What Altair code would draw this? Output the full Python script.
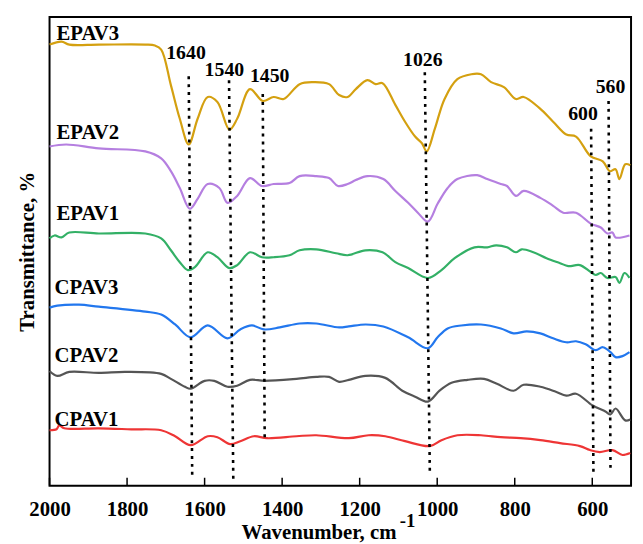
import altair as alt
import pandas as pd

series_names = ["EPAV3", "EPAV2", "EPAV1", "CPAV3", "CPAV2", "CPAV1"]
series_colors = ["#D4A010", "#B57FE0", "#33B066", "#2277EE", "#555555", "#EE3535"]

epav3_wn = [2000, 1969, 1949, 1873, 1753, 1728, 1712, 1687, 1664, 1641, 1618, 1592, 1567, 1536, 1516, 1483, 1450,
            1422, 1396, 1355, 1320, 1279, 1253, 1231, 1210, 1180, 1159, 1141, 1108, 1083, 1057, 1039, 1027, 1006,
            981, 948, 912, 887, 861, 828, 797, 777, 734, 701, 667, 642, 604, 573, 555, 540, 530, 515, 502]
epav3_t = [446, 449, 446, 446, 446, 445, 441, 405, 371, 345, 371, 393, 388, 360, 371, 401, 389,
           393, 391, 406, 408, 406, 395, 393, 401, 410, 406, 407, 385, 368, 353, 346, 338, 361,
           391, 411, 416, 416, 408, 403, 391, 393, 381, 368, 355, 353, 333, 328, 318, 320, 310, 325, 324]

epav2_wn = [2000, 1957, 1873, 1753, 1712, 1687, 1664, 1638, 1618, 1592, 1562, 1541, 1516, 1483, 1452, 1422, 1381,
            1355, 1312, 1279, 1256, 1231, 1210, 1180, 1139, 1108, 1075, 1050, 1024, 999, 973, 948, 897, 871, 836,
            820, 797, 777, 734, 701, 675, 642, 604, 578, 561, 548, 540, 504]
epav2_t = [343, 345, 341, 338, 331, 318, 301, 280, 290, 305, 301, 286, 293, 311, 303, 305, 306,
           313, 313, 311, 303, 305, 309, 313, 310, 298, 286, 276, 267, 285, 301, 310, 314, 310, 305,
           303, 293, 298, 291, 283, 276, 276, 265, 261, 255, 256, 251, 253]

epav1_wn = [2000, 1987, 1969, 1949, 1873, 1753, 1712, 1687, 1664, 1643, 1625, 1592, 1567, 1536, 1516, 1483, 1452,
            1422, 1381, 1355, 1312, 1261, 1231, 1185, 1141, 1108, 1075, 1024, 989, 955, 904, 871, 848, 820, 797,
            782, 752, 718, 683, 662, 632, 604, 591, 578, 561, 540, 530, 517, 504]
epav1_t = [250, 253, 251, 256, 255, 255, 250, 238, 226, 218, 221, 236, 231, 220, 223, 236, 231,
           231, 233, 238, 239, 235, 233, 238, 236, 226, 220, 210, 218, 230, 241, 241, 243, 241, 236,
           239, 236, 230, 225, 222, 223, 216, 213, 215, 210, 211, 205, 215, 210]

cpav3_wn = [2000, 1980, 1924, 1873, 1753, 1712, 1676, 1636, 1592, 1541, 1508, 1478, 1447, 1406, 1355, 1312, 1253,
            1228, 1185, 1139, 1075, 1024, 999, 973, 938, 887, 836, 803, 769, 734, 701, 667, 642, 617, 591, 573,
            553, 540, 522, 504]
cpav3_t = [180, 182, 183, 181, 176, 173, 163, 150, 162, 149, 158, 162, 158, 160, 164, 164, 160,
           161, 163, 161, 150, 139, 150, 159, 162, 163, 159, 154, 156, 154, 149, 145, 146, 143, 137, 140,
           135, 130, 131, 135]

cpav2_wn = [2000, 1980, 1949, 1873, 1804, 1712, 1687, 1651, 1636, 1600, 1575, 1541, 1516, 1483, 1445, 1363, 1312,
            1279, 1253, 1228, 1185, 1134, 1090, 1057, 1024, 994, 963, 922, 879, 846, 803, 777, 734, 694, 667,
            642, 599, 566, 553, 540, 515, 502]
cpav2_t = [116, 111, 115, 114, 115, 113, 108, 100, 98, 106, 106, 100, 101, 107, 106, 108, 110,
           110, 105, 107, 111, 109, 96, 90, 85, 96, 104, 107, 108, 103, 96, 102, 100, 95, 91,
           93, 81, 75, 72, 78, 66, 67]

cpav1_wn = [2000, 1982, 1975, 1962, 1873, 1789, 1712, 1676, 1636, 1592, 1567, 1534, 1508, 1473, 1439, 1363, 1312,
            1228, 1177, 1134, 1083, 1019, 989, 948, 887, 836, 785, 734, 683, 632, 606, 581, 548, 522, 502]
cpav1_t = [56, 57, 61, 58, 58, 57, 56, 50, 41, 50, 49, 42, 45, 50, 48, 50, 51,
           48, 51, 50, 45, 40, 46, 51, 51, 49, 48, 46, 43, 40, 36, 34, 36, 31, 33]

label_wn = [1982, 1982, 1982, 1987, 1987, 1987]
label_t = [457, 357, 275, 200, 131, 66]

peak_text = ["1640", "1540", "1450", "1026", "600", "560"]
peak_text_wn = [1648, 1549, 1432, 1037, 624, 553]
peak_text_t = [437, 420, 414, 430, 376, 403]
peak_top_wn = [1641, 1537, 1450, 1032, 603, 558]
peak_top_t = [414, 410, 396, 418, 361, 389]
peak_bot_wn = [1632, 1526, 1445, 1019, 597, 553]
peak_bot_t = [11, 6, 48, 13, 11, 15]

tick_values = [2000, 1800, 1600, 1400, 1200, 1000, 800, 600]

FONT = "Liberation Serif"

all_wn = [epav3_wn, epav2_wn, epav1_wn, cpav3_wn, cpav2_wn, cpav1_wn]
all_t = [epav3_t, epav2_t, epav1_t, cpav3_t, cpav2_t, cpav1_t]
rows = []
for name, wns, ts in zip(series_names, all_wn, all_t):
    for i, (w, v) in enumerate(zip(wns, ts)):
        rows.append({"series": name, "wn": w, "T": v, "i": i})
df = pd.DataFrame(rows)

lab_df = pd.DataFrame({"series": series_names, "wn": label_wn, "T": label_t})
peak_df = pd.DataFrame({"txt": peak_text, "wn": peak_text_wn, "T": peak_text_t})
rule_df = pd.DataFrame({"wn": peak_top_wn, "T": peak_top_t, "wn2": peak_bot_wn, "T2": peak_bot_t})
tick_df = pd.DataFrame({"wn": tick_values, "T": [0] * len(tick_values), "T2": [8] * len(tick_values)})

xscale = alt.Scale(domain=[500, 2000], reverse=True, nice=False, zero=False)
yscale = alt.Scale(domain=[0, 474], nice=False, zero=False)

lines = alt.Chart(df).mark_line(strokeWidth=2.2, interpolate="catmull-rom").encode(
    x=alt.X("wn:Q", scale=xscale,
            axis=alt.Axis(values=tick_values, format="d", title="Wavenumber, cm", ticks=False, domain=False,
                          grid=False, labelFlush=False, labelOverlap=False, labelPadding=13, titlePadding=2,
                          titleX=272, titleAlign="center")),
    y=alt.Y("T:Q", scale=yscale,
            axis=alt.Axis(title="Transmittance, %", labels=False, ticks=False, domain=False, grid=False,
                          titlePadding=12)),
    color=alt.Color("series:N", scale=alt.Scale(domain=series_names, range=series_colors), legend=None),
    order=alt.Order("i:Q"),
)

rules = alt.Chart(rule_df).mark_rule(strokeDash=[3, 5], strokeWidth=2.6, color="black").encode(
    x=alt.X("wn:Q", scale=xscale), x2="wn2:Q", y=alt.Y("T:Q", scale=yscale), y2="T2:Q"
)

ticks = alt.Chart(tick_df).mark_rule(strokeWidth=1.5, color="black").encode(
    x=alt.X("wn:Q", scale=xscale), y=alt.Y("T:Q", scale=yscale), y2="T2:Q"
)

labels = alt.Chart(lab_df).mark_text(font=FONT, fontSize=21, fontWeight="bold", align="left",
                                     baseline="middle", color="black").encode(
    x=alt.X("wn:Q", scale=xscale), y=alt.Y("T:Q", scale=yscale), text="series:N"
)

peaks = alt.Chart(peak_df).mark_text(font=FONT, fontSize=20, fontWeight="bold", align="center",
                                     baseline="middle", color="black").encode(
    x=alt.X("wn:Q", scale=xscale), y=alt.Y("T:Q", scale=yscale), text="txt:N"
)

sup = alt.Chart(pd.DataFrame({"s": ["-1"]})).mark_text(font=FONT, fontSize=19, fontWeight="bold",
                                                         align="left", baseline="middle",
                                                         color="black").encode(
    x=alt.value(354), y=alt.value(510), text="s:N"
)

chart = alt.layer(lines, rules, ticks, labels, peaks, sup).properties(
    width=588, height=474,
    padding={"left": 9, "top": 6, "right": 0, "bottom": 0},
    background="white",
).configure_view(stroke="black", strokeWidth=2).configure_axis(
    labelFont=FONT, labelFontSize=21, labelFontWeight="bold", labelColor="black",
    titleFont=FONT, titleFontSize=21, titleFontWeight="bold", titleColor="black",
)

chart.save("out.html", embed_options={"renderer": "svg", "actions": False})
